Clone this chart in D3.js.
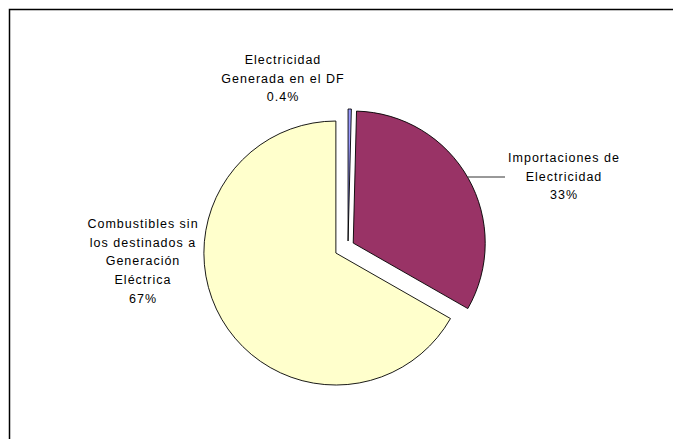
<!DOCTYPE html>
<html>
<head>
<meta charset="utf-8">
<script src="https://cdn.jsdelivr.net/npm/d3@7"></script>
<style>
  html, body { margin: 0; padding: 0; background: #fff; }
  svg { display: block; }
  text { font-family: "Liberation Sans", Arial, sans-serif; font-size: 12.5px; letter-spacing: 1px; fill: #000; }
</style>
</head>
<body>
<svg id="chart" width="673" height="439"></svg>
<script>
// Energy sources (percent share)
const categories = [
  ["Electricidad", "Generada en el DF"],
  ["Importaciones de", "Electricidad"],
  ["Combustibles sin", "los destinados a", "Generación", "Eléctrica"]
];
const values = [0.4, 33, 67];
const valueLabels = ["0.4%", "33%", "67%"];
const colors = ["#9999FF", "#993366", "#FFFFCC"];

// Layout
const W = 673, H = 439;
const cx = 348, cy = 246, R = 132;
const explode = [5, 6, 14];            // radial offset of each slice
const labelAnchor = [[283, 64], [564, 162], [143, 228]]; // first baseline, centre x
const lineGap = 18.7;

const svg = d3.select("#chart");

// Frame
svg.append("rect")
  .attr("x", 9.5).attr("y", 9.5)
  .attr("width", W).attr("height", H)
  .attr("fill", "none").attr("stroke", "#000").attr("stroke-width", 1.5);

const pie = d3.pie().sort(null).startAngle(0).endAngle(2 * Math.PI);
const arcs = pie(values);
const arc = d3.arc().innerRadius(0).outerRadius(R);

const g = svg.append("g").attr("transform", `translate(${cx},${cy})`);

const centers = arcs.map((a, i) => {
  const mid = (a.startAngle + a.endAngle) / 2;
  return [Math.sin(mid) * explode[i], -Math.cos(mid) * explode[i]];
});

g.selectAll("path.slice")
  .data(arcs)
  .join("path")
  .attr("class", "slice")
  .attr("transform", (d, i) => `translate(${centers[i][0]},${centers[i][1]})`)
  .attr("d", arc)
  .attr("fill", (d, i) => colors[i])
  .attr("stroke", "#000")
  .attr("stroke-width", 0.9)
  .attr("stroke-linejoin", "miter");

// Leader line for the imports slice: horizontal from the arc to its label
{
  const i = 1;
  const yLine = 177 - cy;
  const pcx = centers[i][0], pcy = centers[i][1];
  const dy = yLine - pcy;
  const xArc = pcx + Math.sqrt(R * R - dy * dy);
  g.append("line")
    .attr("x1", xArc).attr("y1", yLine)
    .attr("x2", 505 - cx).attr("y2", yLine)
    .attr("stroke", "#333").attr("stroke-width", 1);
}

// Labels
categories.forEach((lines, i) => {
  const t = svg.append("text")
    .attr("text-anchor", "middle")
    .attr("x", labelAnchor[i][0])
    .attr("y", labelAnchor[i][1]);
  lines.concat([valueLabels[i]]).forEach((s, k) => {
    t.append("tspan")
      .attr("x", labelAnchor[i][0])
      .attr("y", labelAnchor[i][1] + k * lineGap)
      .text(s);
  });
});
</script>
</body>
</html>
